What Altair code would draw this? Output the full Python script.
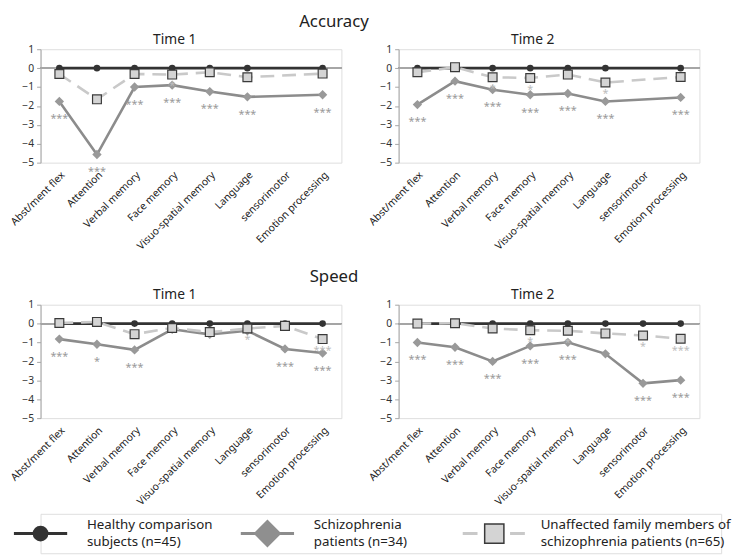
import altair as alt
import pandas as pd

FONT = "Noto Sans"

domains = ["Abst/ment flex", "Attention", "Verbal memory", "Face memory",
           "Visuo-spatial memory", "Language", "sensorimotor", "Emotion processing"]
groups = ["Healthy", "Schizophrenia", "Family"]
group_labels = ["Healthy comparison\nsubjects (n=45)",
                "Schizophrenia\npatients (n=34)",
                "Unaffected family members of\nschizophrenia patients (n=65)"]

# ---- Accuracy, Time 1 (sensorimotor not available -> None)
acc_t1_healthy = [0, 0, 0, 0, 0, 0, None, 0]
acc_t1_schiz = [-1.76, -4.57, -1.0, -0.9, -1.24, -1.52, None, -1.41]
acc_t1_family = [-0.31, -1.65, -0.31, -0.34, -0.22, -0.48, None, -0.29]
acc_t1_schiz_sig = ["***", "***", "***", "***", "***", "***", "", "***"]
acc_t1_family_sig = ["", "", "", "*", "", "", "", ""]

# ---- Accuracy, Time 2
acc_t2_healthy = [0, 0, 0, 0, 0, 0, None, 0]
acc_t2_schiz = [-1.93, -0.69, -1.14, -1.41, -1.34, -1.76, None, -1.55]
acc_t2_family = [-0.22, 0.05, -0.48, -0.52, -0.34, -0.76, None, -0.47]
acc_t2_schiz_sig = ["***", "***", "***", "***", "***", "***", "", "***"]
acc_t2_family_sig = ["", "", "*", "*", "", "*", "", ""]

# ---- Speed, Time 1
spd_t1_healthy = [0, 0, 0, 0, 0, 0, 0, 0]
spd_t1_schiz = [-0.82, -1.09, -1.39, -0.3, -0.57, -0.38, -1.34, -1.56]
spd_t1_family = [0.03, 0.09, -0.56, -0.23, -0.45, -0.26, -0.12, -0.82]
spd_t1_schiz_sig = ["***", "*", "***", "", "", "", "***", "***"]
spd_t1_family_sig = ["", "", "", "", "", "*", "", "***"]

# ---- Speed, Time 2
spd_t2_healthy = [0, 0, 0, 0, 0, 0, 0, 0]
spd_t2_schiz = [-1.0, -1.25, -2.0, -1.18, -0.99, -1.6, -3.16, -2.99]
spd_t2_family = [0.0, 0.02, -0.26, -0.35, -0.38, -0.52, -0.63, -0.8]
spd_t2_schiz_sig = ["***", "***", "***", "***", "***", "", "***", "***"]
spd_t2_family_sig = ["", "", "", "*", "*", "", "*", "***"]

panels = {
    "acc1": (acc_t1_healthy, acc_t1_schiz, acc_t1_family, acc_t1_schiz_sig, acc_t1_family_sig),
    "acc2": (acc_t2_healthy, acc_t2_schiz, acc_t2_family, acc_t2_schiz_sig, acc_t2_family_sig),
    "spd1": (spd_t1_healthy, spd_t1_schiz, spd_t1_family, spd_t1_schiz_sig, spd_t1_family_sig),
    "spd2": (spd_t2_healthy, spd_t2_schiz, spd_t2_family, spd_t2_schiz_sig, spd_t2_family_sig),
}


def make_df(key):
    h, s, f, ssig, fsig = panels[key]
    rows = []
    for i, d in enumerate(domains):
        for g, vals, sig in (("Healthy", h, [""] * 8), ("Schizophrenia", s, ssig), ("Family", f, fsig)):
            if vals[i] is None:
                continue
            rows.append({"domain": d, "group": g, "value": vals[i], "sig": sig[i]})
    return pd.DataFrame(rows)


C_HEALTHY = "#333333"
C_SCHIZ = "#8c8c8c"
C_FAMILY = "#c9c9c9"

W, H = 305, 115
XSCALE = alt.Scale(domain=domains, type="point", padding=0.5)
YSCALE = alt.Scale(domain=[-5, 1], nice=False, zero=False)
Y_AXIS = alt.Axis(title=None, values=[1, 0, -1, -2, -3, -4, -5], grid=False,
                  domainColor="#a6a6a6", tickColor="#a6a6a6", tickSize=4,
                  labelFont=FONT, labelFontSize=10.5, labelColor="#333333",
                  labelPadding=3, labelOverlap=False)


def panel(key, time_title, section=None):
    df = make_df(key)
    x_bottom = alt.X("domain:N", sort=domains, scale=XSCALE,
                     axis=alt.Axis(title=None, labelAngle=-45, domain=False, ticks=False,
                                   labelPadding=7, labelFont=FONT, labelFontSize=10.5,
                                   labelColor="#222222", labelLimit=200))
    x_top = alt.X("domain:N", sort=domains, scale=XSCALE,
                  axis=alt.Axis(orient="top", title=time_title, labels=False, ticks=False,
                                domain=False, titleFont=FONT, titleFontSize=14,
                                titleFontWeight="normal", titleColor="#222222",
                                titlePadding=3, titleX=W / 2 - 17))
    x_none = alt.X("domain:N", sort=domains, scale=XSCALE, axis=None)
    yv = alt.Y("value:Q", scale=YSCALE, axis=Y_AXIS)

    src = alt.Chart(df)
    hl = src.transform_filter("datum.group == 'Healthy'")
    sl = src.transform_filter("datum.group == 'Schizophrenia'")
    fl = src.transform_filter("datum.group == 'Family'")
    layers = [
        src.mark_rule(color="#a6a6a6", strokeWidth=1).encode(y=alt.Y(datum=0, scale=YSCALE, axis=Y_AXIS)),
        hl.mark_line(color=C_HEALTHY, strokeWidth=2.6).encode(x=x_bottom, y=yv),
        hl.mark_point(shape="circle", filled=True, size=45, color=C_HEALTHY, opacity=1).encode(x=x_top, y=yv),
        sl.mark_line(color=C_SCHIZ, strokeWidth=2.6).encode(x=x_none, y=yv),
        sl.mark_point(shape="diamond", filled=True, size=90, color="#999999", opacity=1).encode(x=x_none, y=yv),
        fl.mark_line(color=C_FAMILY, strokeWidth=2.6, strokeDash=[14, 8]).encode(x=x_none, y=yv),
        fl.mark_point(shape="square", filled=True, size=80, fill="#d4d4d4",
                      stroke="#3a3a3a", strokeWidth=1.2, opacity=1).encode(x=x_none, y=yv),
        sl.transform_filter("datum.sig != ''").mark_text(
            dy=18, fontSize=11, font=FONT, color="#9a9a9a").encode(x=x_none, y=yv, text="sig:N"),
        fl.transform_filter("datum.sig != ''").mark_text(
            dy=12, fontSize=11, font=FONT, color="#bdbdbd").encode(x=x_none, y=yv, text="sig:N"),
    ]
    ch = alt.layer(*layers).resolve_axis(x="independent").properties(width=W, height=H)
    if section:
        ch = ch.properties(title=alt.TitleParams(section, font=FONT, fontSize=17, fontWeight="normal",
                                                 color="#222222", anchor="middle", frame="group",
                                                 dx=145, offset=2))
    return ch


grid = alt.concat(
    panel("acc1", "Time 1", "Accuracy"), panel("acc2", "Time 2"),
    panel("spd1", "Time 1", "Speed"), panel("spd2", "Time 2"),
    columns=2, spacing=alt.RowColnumber(row=144, column=58), bounds="flush",
)

# ---- legend (one entry per group, positioned through a band scale)
leg_df = pd.DataFrame({"group": groups, "label": group_labels, "row": ["r"] * 3})
gx = alt.X("group:N", sort=groups, bandPosition=0,
           scale=alt.Scale(type="band", domain=groups, paddingInner=0, paddingOuter=0),
           axis=None)
gy = alt.Y("row:N", axis=None)
lbase = alt.Chart(leg_df).encode(x=gx, y=gy)
lh = lbase.transform_filter("datum.group == 'Healthy'")
ls = lbase.transform_filter("datum.group == 'Schizophrenia'")
lf = lbase.transform_filter("datum.group == 'Family'")
x2 = alt.X2("group:N", bandPosition=0)
legend = alt.layer(
    lh.mark_rule(strokeWidth=3, xOffset=-27, x2Offset=27, color=C_HEALTHY).encode(x2=x2),
    ls.mark_rule(strokeWidth=3, xOffset=-27, x2Offset=27, color=C_SCHIZ).encode(x2=x2),
    lf.mark_rule(strokeWidth=3, xOffset=-32, x2Offset=31, color=C_FAMILY,
                 strokeDash=[15, 33]).encode(x2=x2),
    lh.mark_point(shape="circle", filled=True, size=256, color=C_HEALTHY, opacity=1),
    ls.mark_point(shape="diamond", filled=True, size=800, color="#8f8f8f", opacity=1),
    lf.mark_point(shape="square", filled=True, size=380, fill="#d4d4d4",
                  stroke="#3a3a3a", strokeWidth=1.5, opacity=1),
    lbase.mark_text(xOffset=47, dy=-9, align="left", baseline="middle", lineBreak="\n",
                    font=FONT, fontSize=13.5, color="#222222", lineHeight=18).encode(text="label:N"),
).properties(width=690, height=40)

chart = alt.vconcat(grid, legend, spacing=5).properties(padding=0) \
    .configure_view(stroke=None).configure(background="white")

chart.save("out.html", embed_options={"renderer": "svg", "actions": False})
